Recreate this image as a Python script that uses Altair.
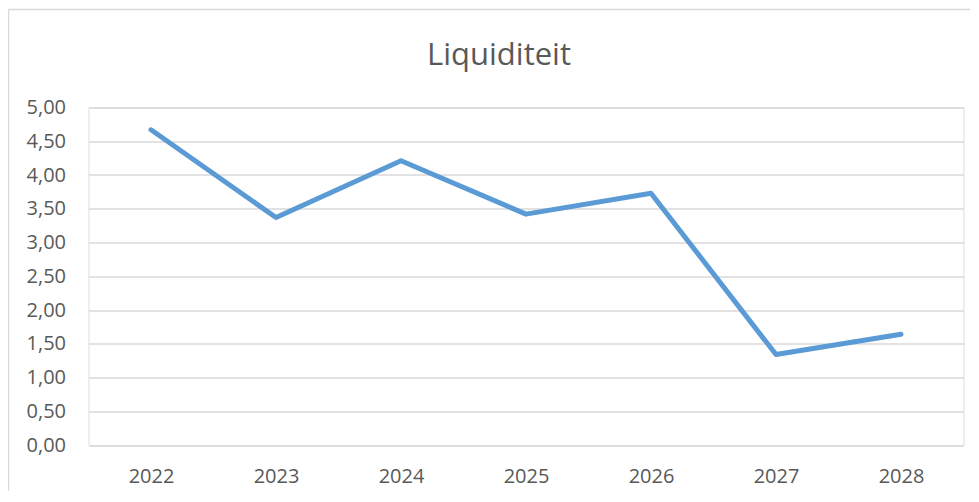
import altair as alt
import pandas as pd

years = ["2022", "2023", "2024", "2025", "2026", "2027", "2028"]
values = [4.67, 3.37, 4.21, 3.42, 3.73, 1.34, 1.64]
y_ticks = [0, 0.5, 1, 1.5, 2, 2.5, 3, 3.5, 4, 4.5, 5]
title_text = "Liquiditeit"

df = pd.DataFrame({"jaar": years, "liquiditeit": values})

FONT = "Open Sans"
GREY = "#595959"

base = alt.Chart(df)

line = base.mark_line(color="#5B9BD5", strokeWidth=5, strokeCap="round", strokeJoin="round").encode(
    x=alt.X("jaar:N", sort=years,
            scale=alt.Scale(paddingInner=0, paddingOuter=0.5, align=0.5),
            axis=alt.Axis(title=None, labelAngle=0, ticks=False, domain=False,
                          labelPadding=21, labelFont=FONT, labelFontSize=20,
                          labelColor=GREY, grid=False)),
    y=alt.Y("liquiditeit:Q",
            scale=alt.Scale(domain=[0, 5], nice=False, zero=True),
            axis=alt.Axis(title=None, values=y_ticks, format=".2f", ticks=False,
                          domain=False, labelPadding=23, labelFont=FONT,
                          labelFontSize=20, labelColor=GREY, grid=True,
                          gridColor="#d9d9d9", gridWidth=1.5)),
)

frame_df = pd.DataFrame({"a": [0]})
left_edge = alt.Chart(frame_df).mark_rule(stroke="#d9d9d9", strokeWidth=1.5).encode(
    x=alt.value(-80), y=alt.value(-98), y2=alt.value(450)
)
top_edge = alt.Chart(frame_df).mark_rule(stroke="#d9d9d9", strokeWidth=1.5).encode(
    x=alt.value(-80), x2=alt.value(950), y=alt.value(-98)
)

title = alt.Chart(pd.DataFrame({"t": [title_text]})).mark_text(
    font=FONT, fontSize=31, color=GREY, align="center", baseline="alphabetic"
).encode(
    text="t:N", x=alt.value(410.5), y=alt.value(-43)
)

chart = alt.layer(left_edge, top_edge, title, line).properties(
    width=875,
    height=337.5,
    padding={"left": 80.5, "top": 99.5, "right": 6, "bottom": 46},
    autosize=alt.AutoSizeParams(type="none"),
).configure_view(stroke=None).configure(
    locale={"number": {"decimal": ",", "thousands": ".", "grouping": [3], "currency": ["€", ""]}}
)

chart.save("out.html", embed_options={"renderer": "svg", "actions": False})
